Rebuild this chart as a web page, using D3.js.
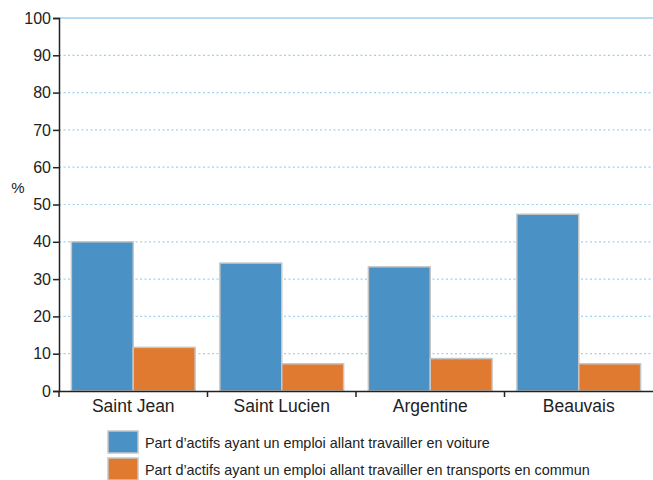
<!DOCTYPE html>
<html>
<head>
<meta charset="utf-8">
<script src="https://cdn.jsdelivr.net/npm/d3@7"></script>
<style>
  body { margin: 0; background: #fff; }
  text { font-family: "Liberation Sans", Arial, sans-serif; fill: #222; }
</style>
</head>
<body>
<script>
var categories = ["Saint Jean", "Saint Lucien", "Argentine", "Beauvais"];
var seriesNames = [
  "Part d\u2019actifs ayant un emploi allant travailler en voiture",
  "Part d\u2019actifs ayant un emploi allant travailler en transports en commun"
];
var voiture = [40.0, 34.3, 33.3, 47.4];
var transports = [11.7, 7.3, 8.7, 7.3];
var yTicks = [0, 10, 20, 30, 40, 50, 60, 70, 80, 90, 100];
var colors = ["#4a91c5", "#e07a30"];

var w = 653;
var h = 480;
var plotLeft = 59, plotRight = 653, plotTop = 18, plotBottom = 391;

var svg = d3.select("body")
            .append("svg")
            .attr("width", w)
            .attr("height", h);

var xScale = d3.scaleBand()
              .domain(categories)
              .range([plotLeft, plotRight])
              .padding(0);

var xInner = d3.scaleBand()
              .domain([0, 1])
              .range([0, xScale.bandwidth()])
              .paddingInner(0)
              .paddingOuter(0.2);

var yScale = d3.scaleLinear()
              .domain([0, 100])
              .range([plotBottom, plotTop]);

// grid lines
svg.append("g")
  .selectAll("line")
  .data(yTicks.filter(function(d){ return d > 0; }))
  .enter()
  .append("line")
    .attr("x1", plotLeft)
    .attr("x2", plotRight)
    .attr("y1", function(d){ return yScale(d); })
    .attr("y2", function(d){ return yScale(d); })
    .attr("stroke", "#9fd2ef")
    .attr("stroke-width", function(d){ return d === 100 ? 1.5 : 1.2; })
    .attr("stroke-dasharray", function(d){ return d === 100 ? null : "2,2.5"; });

var rows = categories.map(function(c, i) {
  return { cat: c, values: [voiture[i], transports[i]] };
});

var groups = svg.selectAll("g.group")
  .data(rows)
  .enter()
  .append("g")
    .attr("class", "group")
    .attr("transform", function(d){ return "translate(" + xScale(d.cat) + ",0)"; });

groups.selectAll("rect")
  .data(function(d){ return d.values; })
  .enter()
  .append("rect")
    .attr("x", function(d, i){ return xInner(i); })
    .attr("width", xInner.bandwidth())
    .attr("y", function(d){ return yScale(d); })
    .attr("height", function(d){ return yScale(0) - yScale(d); })
    .attr("fill", function(d, i){ return colors[i]; })
    .attr("stroke", "#c6c6c6")
    .attr("stroke-width", 1.5);

// y axis
var yAxis = d3.axisLeft(yScale)
              .tickValues(yTicks)
              .tickSize(6)
              .tickPadding(2);

var yg = svg.append("g")
  .attr("transform", "translate(" + plotLeft + ",0)")
  .call(yAxis);
yg.select(".domain").attr("stroke", "#222").attr("stroke-width", 1.5);
yg.selectAll(".tick line").attr("stroke", "#222").attr("stroke-width", 1.5);
yg.selectAll("text").style("font-size", "16px").attr("fill", "#222");

// x axis
var xAxis = d3.axisBottom(xScale).tickSize(0).tickPadding(9);
var xg = svg.append("g")
  .attr("transform", "translate(0," + plotBottom + ")")
  .call(xAxis);
xg.select(".domain").attr("stroke", "#222").attr("stroke-width", 1.5);
xg.selectAll("text").style("font-size", "17.5px").attr("fill", "#222");

xg.selectAll("line.sep")
  .data(categories)
  .enter()
  .append("line")
    .attr("class", "sep")
    .attr("x1", function(d){ return xScale(d); })
    .attr("x2", function(d){ return xScale(d); })
    .attr("y1", 0)
    .attr("y2", 6)
    .attr("stroke", "#222")
    .attr("stroke-width", 1.5);

// % label
svg.append("text")
  .attr("x", 18)
  .attr("y", 193)
  .attr("text-anchor", "middle")
  .style("font-size", "15px")
  .text("%");

// legend
var legend = svg.selectAll("g.legend")
  .data(seriesNames)
  .enter()
  .append("g")
    .attr("class", "legend")
    .attr("transform", function(d, i){ return "translate(108," + (431 + i * 27) + ")"; });

legend.append("rect")
  .attr("width", 30)
  .attr("height", 22)
  .attr("fill", function(d, i){ return colors[i]; })
  .attr("stroke", "#c6c6c6")
  .attr("stroke-width", 1.5);

legend.append("text")
  .attr("x", 37)
  .attr("y", 17)
  .style("font-size", "14.4px")
  .text(function(d){ return d; });
</script>
</body>
</html>
